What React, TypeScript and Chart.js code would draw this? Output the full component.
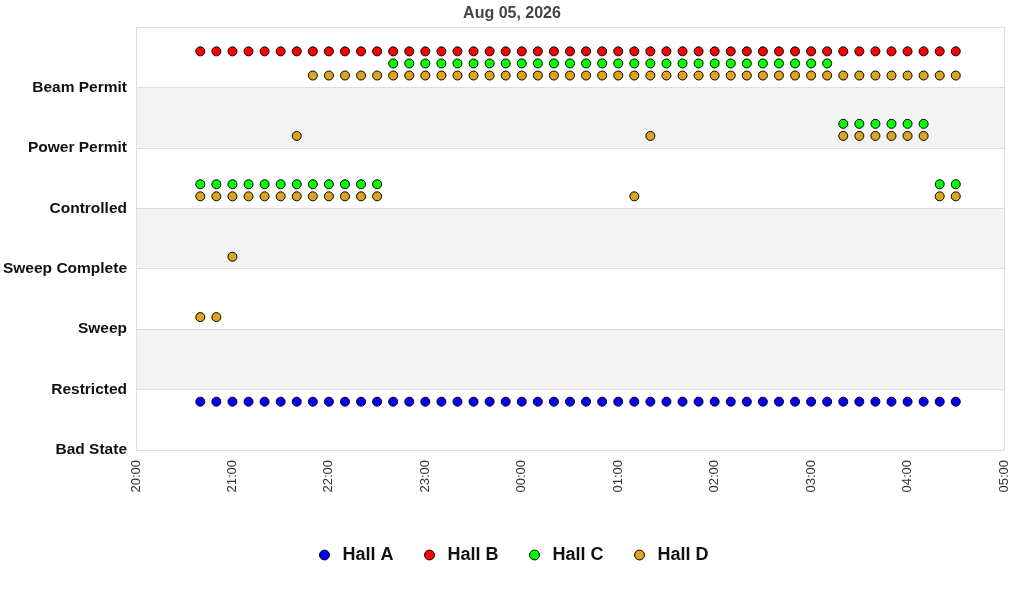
import { useEffect, useRef } from "react";
import { Chart, registerables } from "chart.js";

Chart.register(...registerables);

const stateNames = [
  "Bad State",
  "Restricted",
  "Sweep",
  "Sweep Complete",
  "Controlled",
  "Power Permit",
  "Beam Permit",
];

// sample times (one every 10 min)
const times = [
  "20:40", "20:50", "21:00", "21:10", "21:20", "21:30", "21:40", "21:50",
  "22:00", "22:10", "22:20", "22:30", "22:40", "22:50", "23:00", "23:10",
  "23:20", "23:30", "23:40", "23:50", "00:00", "00:10", "00:20", "00:30",
  "00:40", "00:50", "01:00", "01:10", "01:20", "01:30", "01:40", "01:50",
  "02:00", "02:10", "02:20", "02:30", "02:40", "02:50", "03:00", "03:10",
  "03:20", "03:30", "03:40", "03:50", "04:00", "04:10", "04:20", "04:30",
];

const xTicks = ["20:00", "21:00", "22:00", "23:00", "00:00", "01:00", "02:00", "03:00", "04:00", "05:00"];

// state index per time slot (several states possible in one slot)
const hallA = [
  [1], [1], [1], [1], [1], [1], [1], [1], [1], [1], [1], [1],
  [1], [1], [1], [1], [1], [1], [1], [1], [1], [1], [1], [1],
  [1], [1], [1], [1], [1], [1], [1], [1], [1], [1], [1], [1],
  [1], [1], [1], [1], [1], [1], [1], [1], [1], [1], [1], [1],
];
const hallB = [
  [6], [6], [6], [6], [6], [6], [6], [6], [6], [6], [6], [6],
  [6], [6], [6], [6], [6], [6], [6], [6], [6], [6], [6], [6],
  [6], [6], [6], [6], [6], [6], [6], [6], [6], [6], [6], [6],
  [6], [6], [6], [6], [6], [6], [6], [6], [6], [6], [6], [6],
];
const hallC = [
  [4], [4], [4], [4], [4], [4], [4], [4], [4], [4], [4], [4],
  [6], [6], [6], [6], [6], [6], [6], [6], [6], [6], [6], [6],
  [6], [6], [6], [6], [6], [6], [6], [6], [6], [6], [6], [6],
  [6], [6], [6], [6], [5], [5], [5], [5], [5], [5], [4], [4],
];
const hallD = [
  [2, 4], [2, 4], [3, 4], [4], [4], [4], [5, 4], [6, 4], [6, 4], [6, 4], [6, 4], [6, 4],
  [6], [6], [6], [6], [6], [6], [6], [6], [6], [6], [6], [6],
  [6], [6], [6], [6, 4], [6, 5], [6], [6], [6], [6], [6], [6], [6],
  [6], [6], [6], [6], [6, 5], [6, 5], [6, 5], [6, 5], [6, 5], [6, 5], [6, 4], [6, 4],
];

const halls = ["Hall A", "Hall B", "Hall C", "Hall D"];
const hallColors = ["#0000ff", "#ff0000", "#00ff00", "#daa520"];
const hallOffsets = [-0.2, 0.6, 0.4, 0.2];

const FONT = "'Liberation Sans', Arial, sans-serif";

function toMinutes(t: string) {
  const [h, m] = t.split(":").map(Number);
  return ((h + 4) % 24) * 60 + m; // minutes after 20:00
}

function points(states: number[][], offset: number) {
  const out: { x: number; y: number }[] = [];
  states.forEach((list, i) => {
    list.forEach((s) => out.push({ x: toMinutes(times[i]), y: s + offset }));
  });
  return out;
}

const bandsPlugin = {
  id: "bands",
  beforeDraw(chart: any) {
    const { ctx, chartArea, scales } = chart;
    const y = scales.y;
    ctx.save();
    ctx.fillStyle = "#f3f3f3";
    [1, 3, 5].forEach((v) => {
      const top = y.getPixelForValue(v + 1);
      const bottom = y.getPixelForValue(v);
      ctx.fillRect(chartArea.left, top, chartArea.right - chartArea.left, bottom - top);
    });
    ctx.restore();
  },
  afterDraw(chart: any) {
    const { ctx, chartArea } = chart;
    ctx.save();
    ctx.strokeStyle = "#dddddd";
    ctx.lineWidth = 1;
    ctx.strokeRect(
      Math.round(chartArea.left) + 0.5,
      Math.round(chartArea.top) + 0.5,
      Math.round(chartArea.right - chartArea.left),
      Math.round(chartArea.bottom - chartArea.top)
    );
    ctx.restore();
  },
};

export default function App() {
  const chartRef = useRef<Chart | null>(null);
  const canvasRef = useRef<HTMLCanvasElement | null>(null);

  useEffect(() => {
    document.body.style.margin = "0";
    const all = [hallA, hallB, hallC, hallD];

    const data = {
      datasets: halls.map((name, i) => ({
        label: name,
        data: points(all[i], hallOffsets[i]),
        backgroundColor: hallColors[i],
        borderColor: "#000000",
        borderWidth: 1,
        pointRadius: 4.5,
        pointHoverRadius: 5,
        showLine: false,
      })),
    };

    const options: any = {
      animation: false,
      responsive: false,
      layout: { padding: { left: 0, right: 0, top: 0, bottom: 26 } },
      plugins: {
        title: {
          display: true,
          text: "Aug 05, 2026",
          color: "#444444",
          font: { family: FONT, size: 16, weight: "bold" },
          padding: { top: 4, bottom: 4 },
        },
        legend: {
          position: "bottom",
          labels: {
            usePointStyle: true,
            pointStyle: "circle",
            boxWidth: 18,
            boxHeight: 7,
            padding: 27,
            color: "#111111",
            font: { family: FONT, size: 18, weight: "bold" },
          },
        },
        tooltip: { enabled: false },
      },
      scales: {
        x: {
          type: "linear",
          min: 0,
          max: 540,
          afterFit: (s: any) => {
            s.height = 69;
            s.paddingLeft = 0;
            s.paddingRight = 20; // right margin of the plot
          },
          afterBuildTicks: (s: any) => {
            s.ticks = xTicks.map((t, i) => ({ value: i * 60, label: t }));
          },
          ticks: {
            minRotation: 90,
            maxRotation: 90,
            autoSkip: false,
            color: "#333333",
            padding: 10,
            font: { family: FONT, size: 13 },
            callback: (v: number) => xTicks[Math.round(v / 60)],
          },
          grid: { display: false, drawTicks: false },
          border: { color: "#dddddd" },
        },
        y: {
          min: 0,
          max: 7,
          afterFit: (s: any) => {
            s.width = 136;
          },
          ticks: {
            stepSize: 1,
            color: "#111111",
            padding: 9,
            font: { family: FONT, size: 15.5, weight: "bold" },
            callback: (v: number) => stateNames[v] ?? "",
          },
          grid: { color: "#dddddd", drawTicks: false },
          border: { color: "#dddddd" },
        },
      },
    };

    if (chartRef.current) chartRef.current.destroy();
    const ctx = canvasRef.current?.getContext("2d");
    if (ctx) {
      chartRef.current = new Chart(ctx, {
        type: "scatter",
        data,
        options,
        plugins: [bandsPlugin],
      });
    }
    return () => {
      if (chartRef.current) chartRef.current.destroy();
    };
  }, []);

  return (
    <div style={{ width: 1024, height: 600, background: "#ffffff" }}>
      <canvas ref={canvasRef} width={1024} height={600} />
    </div>
  );
}
